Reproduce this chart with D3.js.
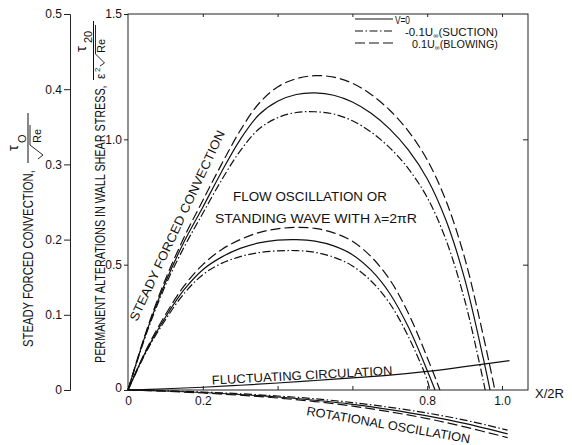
<!DOCTYPE html>
<html>
<head>
<meta charset="utf-8">
<script src="https://cdn.jsdelivr.net/npm/d3@7"></script>
<style>
  body { margin: 0; background: #fff; }
  svg { font-family: "Liberation Sans", Arial, sans-serif; fill: #111; }
  .curve { fill: none; stroke: #111; stroke-width: 1.2; }
  .frame { fill: none; stroke: #222; stroke-width: 1; }
  .tick text { font-size: 12px; fill: #111; }
  .tick line { stroke: #222; }
</style>
</head>
<body>
<script>
// x ticks and labels (0.4, 0.6 unlabeled in the original)
var xTicks = [0, 0.2, 0.4, 0.6, 0.8, 1.0];
var xTickLabels = ["0", "0.2", "", "", "0.8", "1.0"];
var outerTicks = [0, 0.1, 0.2, 0.3, 0.4, 0.5];
var innerTicks = [0, 0.5, 1.0, 1.5];

// steady forced convection, tau0/sqrt(Re)  (outer axis)
var steadyV0 = [[0,0],[0.05,0.078],[0.1,0.143],[0.15,0.197],[0.2,0.243],[0.25,0.29],[0.3,0.333],[0.35,0.366],[0.4,0.384],[0.45,0.393],[0.5,0.395],[0.55,0.392],[0.6,0.383],[0.65,0.368],[0.7,0.347],[0.75,0.319],[0.8,0.281],[0.85,0.226],[0.9,0.148],[0.95,0.042],[0.968,0]];
var steadySuction = [[0,0],[0.05,0.076],[0.1,0.139],[0.15,0.19],[0.2,0.235],[0.25,0.279],[0.3,0.318],[0.35,0.347],[0.4,0.362],[0.45,0.369],[0.5,0.37],[0.55,0.367],[0.6,0.358],[0.65,0.343],[0.7,0.322],[0.75,0.294],[0.8,0.256],[0.85,0.2],[0.9,0.12],[0.94,0.035],[0.955,0]];
var steadyBlowing = [[0,0],[0.05,0.08],[0.1,0.147],[0.15,0.203],[0.2,0.252],[0.25,0.3],[0.3,0.345],[0.35,0.381],[0.4,0.403],[0.45,0.414],[0.5,0.418],[0.55,0.416],[0.6,0.408],[0.65,0.393],[0.7,0.372],[0.75,0.344],[0.8,0.306],[0.85,0.252],[0.9,0.176],[0.95,0.072],[0.981,0]];

// flow oscillation / standing wave  (inner axis)
var flowV0 = [[0,0],[0.05,0.16],[0.1,0.29],[0.15,0.40],[0.2,0.48],[0.25,0.53],[0.3,0.565],[0.35,0.587],[0.4,0.598],[0.45,0.6],[0.5,0.594],[0.55,0.575],[0.6,0.54],[0.65,0.478],[0.7,0.385],[0.75,0.25],[0.8,0.078],[0.821,0]];
var flowSuction = [[0,0],[0.05,0.155],[0.1,0.28],[0.15,0.385],[0.2,0.46],[0.25,0.505],[0.3,0.532],[0.35,0.548],[0.4,0.555],[0.45,0.556],[0.5,0.549],[0.55,0.53],[0.6,0.495],[0.65,0.435],[0.7,0.345],[0.75,0.212],[0.8,0.04],[0.807,0]];
var flowBlowing = [[0,0],[0.05,0.165],[0.1,0.3],[0.15,0.415],[0.2,0.5],[0.25,0.56],[0.3,0.6],[0.35,0.628],[0.4,0.643],[0.45,0.649],[0.5,0.645],[0.55,0.627],[0.6,0.593],[0.65,0.532],[0.7,0.44],[0.75,0.305],[0.8,0.13],[0.834,0]];

// fluctuating circulation (single line)
var fluctuating = [[0,0],[0.1,0.005],[0.2,0.011],[0.3,0.019],[0.4,0.028],[0.5,0.038],[0.6,0.048],[0.7,0.059],[0.8,0.074],[0.9,0.093],[1.02,0.117]];

// rotational oscillation
var rotV0 = [[0,0],[0.1,-0.004],[0.2,-0.01],[0.3,-0.018],[0.4,-0.028],[0.5,-0.041],[0.6,-0.057],[0.7,-0.078],[0.8,-0.103],[0.9,-0.133],[1.015,-0.175]];
var rotSuction = [[0,0],[0.1,-0.003],[0.2,-0.008],[0.3,-0.015],[0.4,-0.024],[0.5,-0.035],[0.6,-0.05],[0.7,-0.069],[0.8,-0.092],[0.9,-0.12],[1.015,-0.16]];
var rotBlowing = [[0,0],[0.1,-0.005],[0.2,-0.012],[0.3,-0.021],[0.4,-0.032],[0.5,-0.046],[0.6,-0.064],[0.7,-0.087],[0.8,-0.114],[0.9,-0.147],[1.015,-0.19]];

// legend: main text, subscript, rest
var legendText = [["V=0", "", ""], ["-0.1U", "\u221e", "(SUCTION)"], ["0.1U", "\u221e", "(BLOWING)"]];
var legendKinds = ["v0", "suction", "blowing"];

var dashes = { v0: null, suction: "8,2.5,1.5,2.5", blowing: "10,4" };

var width = 572, height = 445;

var svg = d3.select("body").append("svg")
    .attr("width", width)
    .attr("height", height);

var x = d3.scaleLinear().domain([0, 1]).range([128, 502]);
var yIn = d3.scaleLinear().domain([0, 1.5]).range([390, 14]);
var yOut = d3.scaleLinear().domain([0, 0.5]).range([390, 14]);

//squeeze a text sideways so it spans the given length (lettering is narrow)
function fit(sel, target, base){
    var w = sel.node().getComputedTextLength();
    sel.attr("transform", (base || "") + " scale(" + (target / w) + ",1)");
}

//frame
svg.append("rect").attr("class", "frame")
    .attr("x", x(0)).attr("y", yIn(1.5))
    .attr("width", 528 - x(0)).attr("height", yIn(0) - yIn(1.5));

//outer axis (steady forced convection)
var outerAxis = svg.append("g")
    .attr("transform", "translate(70,0)")
    .call(d3.axisLeft(yOut).tickValues(outerTicks).tickSize(6).tickPadding(2)
        .tickFormat(function(d){ return d === 0 ? "0" : d3.format(".1f")(d); }));
outerAxis.select(".domain").attr("stroke", "#222");

//inner axis
var innerAxis = svg.append("g")
    .attr("transform", "translate(" + x(0) + ",0)")
    .call(d3.axisLeft(yIn).tickValues(innerTicks).tickSize(4).tickPadding(2)
        .tickFormat(function(d){ return d === 0 ? "0" : d3.format(".1f")(d); }));
innerAxis.select(".domain").remove();
innerAxis.selectAll(".tick text").attr("dy", function(d){ return d === 0 ? "0.1em" : "0.32em"; });

//right side ticks
svg.append("g")
    .attr("transform", "translate(528,0)")
    .call(d3.axisRight(yIn).tickValues([0.5, 1.0]).tickSize(-5).tickFormat(""))
    .select(".domain").remove();

//x axis
var xAxis = svg.append("g")
    .attr("transform", "translate(0," + yIn(0) + ")")
    .call(d3.axisBottom(x).tickValues(xTicks).tickSize(-4).tickPadding(6)
        .tickFormat(function(d, i){ return xTickLabels[i]; }));
xAxis.select(".domain").remove();

//top ticks
svg.append("g")
    .attr("transform", "translate(0," + yIn(1.5) + ")")
    .call(d3.axisTop(x).tickValues(xTicks.slice(1)).tickSize(-3).tickFormat(""))
    .select(".domain").remove();

svg.append("text").attr("x", 535).attr("y", 398)
    .style("font-size", "13px").text("X/2R");

//curves
var line = function(scale){
    return d3.line()
        .x(function(d){ return x(d[0]); })
        .y(function(d){ return scale(d[1]); })
        .curve(d3.curveCatmullRom.alpha(0.5));
};

var curves = [
    { pts: steadyV0, scale: yOut, kind: "v0" },
    { pts: steadySuction, scale: yOut, kind: "suction" },
    { pts: steadyBlowing, scale: yOut, kind: "blowing" },
    { pts: flowV0, scale: yIn, kind: "v0" },
    { pts: flowSuction, scale: yIn, kind: "suction" },
    { pts: flowBlowing, scale: yIn, kind: "blowing" },
    { pts: fluctuating, scale: yIn, kind: "v0" },
    { pts: rotV0, scale: yIn, kind: "v0" },
    { pts: rotSuction, scale: yIn, kind: "suction" },
    { pts: rotBlowing, scale: yIn, kind: "blowing" }
];

svg.selectAll(".curve")
    .data(curves)
    .enter()
    .append("path")
    .attr("class", "curve")
    .attr("stroke-dasharray", function(d){ return dashes[d.kind]; })
    .attr("d", function(d){ return line(d.scale)(d.pts); });

//legend
var legendX = [395, 405, 412], legendW = [15, 93, 86];
var legend = svg.selectAll(".legend")
    .data(legendText)
    .enter()
    .append("g")
    .attr("class", "legend")
    .attr("transform", function(d, i){ return "translate(0," + (20 + i * 12) + ")"; });

legend.append("line")
    .attr("x1", 355).attr("x2", 393).attr("y1", -1).attr("y2", -1)
    .attr("stroke", "#111").attr("stroke-width", 1.2)
    .attr("stroke-dasharray", function(d, i){ return dashes[legendKinds[i]]; });

legend.each(function(d, i){
    var t = d3.select(this).append("text").style("font-size", "11px");
    t.append("tspan").text(d[0]);
    t.append("tspan").attr("dy", 2).style("font-size", "7px").text(d[1]);
    t.append("tspan").attr("dy", -2).text(d[2]);
    fit(t, legendW[i], "translate(" + legendX[i] + ",3.5)");
});

//annotations
var ann = svg.append("g").style("font-size", "12.5px");
fit(ann.append("text").text("STEADY FORCED CONVECTION"), 209, "translate(137,322) rotate(-65)");
fit(ann.append("text").text("FLOW OSCILLATION OR"), 154, "translate(233,201)");
fit(ann.append("text").text("STANDING WAVE WITH \u03bb=2\u03c0R"), 202, "translate(215,222.5)");
fit(ann.append("text").text("FLUCTUATING CIRCULATION"), 181, "translate(212,384.5) rotate(-3.1)");
fit(ann.append("text").text("ROTATIONAL OSCILLATION"), 166, "translate(306,415) rotate(9.8)");

//outer axis title, rotated
var t1 = svg.append("g").attr("transform", "translate(28,347) rotate(-90)");
fit(t1.append("text").style("font-size", "15px").text("STEADY FORCED CONVECTION,"), 177, "translate(0,5.3)");
t1.append("text").attr("x", 196).attr("y", -10).style("font-size", "15px").text("\u03c4");
t1.append("text").attr("x", 204).attr("y", -2).style("font-size", "11px").text("O");
t1.append("line").attr("x1", 184).attr("x2", 234).attr("y1", 0).attr("y2", 0)
    .attr("stroke", "#111").attr("stroke-width", 1);
t1.append("path").attr("d", "M188,10L192,15L202,2L222,2")
    .attr("fill", "none").attr("stroke", "#111").attr("stroke-width", 0.9);
t1.append("text").attr("x", 204).attr("y", 13).style("font-size", "11px").text("Re");

//inner axis title, rotated
var t2 = svg.append("g").attr("transform", "translate(100,363) rotate(-90)");
fit(t2.append("text").style("font-size", "15px").text("PERMANENT ALTERATIONS IN WALL SHEAR STRESS,"), 278, "translate(0,5.3)");
t2.append("line").attr("x1", 283).attr("x2", 342).attr("y1", -6.5).attr("y2", -6.5)
    .attr("stroke", "#111").attr("stroke-width", 1);
t2.append("text").attr("x", 311).attr("y", -14).style("font-size", "15px").text("\u03c4");
t2.append("text").attr("x", 320).attr("y", -8).style("font-size", "11px").text("20");
t2.append("text").attr("x", 284).attr("y", 4.5).style("font-size", "12px").text("\u03b5");
t2.append("text").attr("x", 291).attr("y", -0.5).style("font-size", "8px").text("2");
t2.append("path").attr("d", "M297,0L300,4.5L309,-4.5L338,-4.5")
    .attr("fill", "none").attr("stroke", "#111").attr("stroke-width", 0.9);
t2.append("text").attr("x", 310).attr("y", 4.5).style("font-size", "11px").text("Re");
</script>
</body>
</html>
